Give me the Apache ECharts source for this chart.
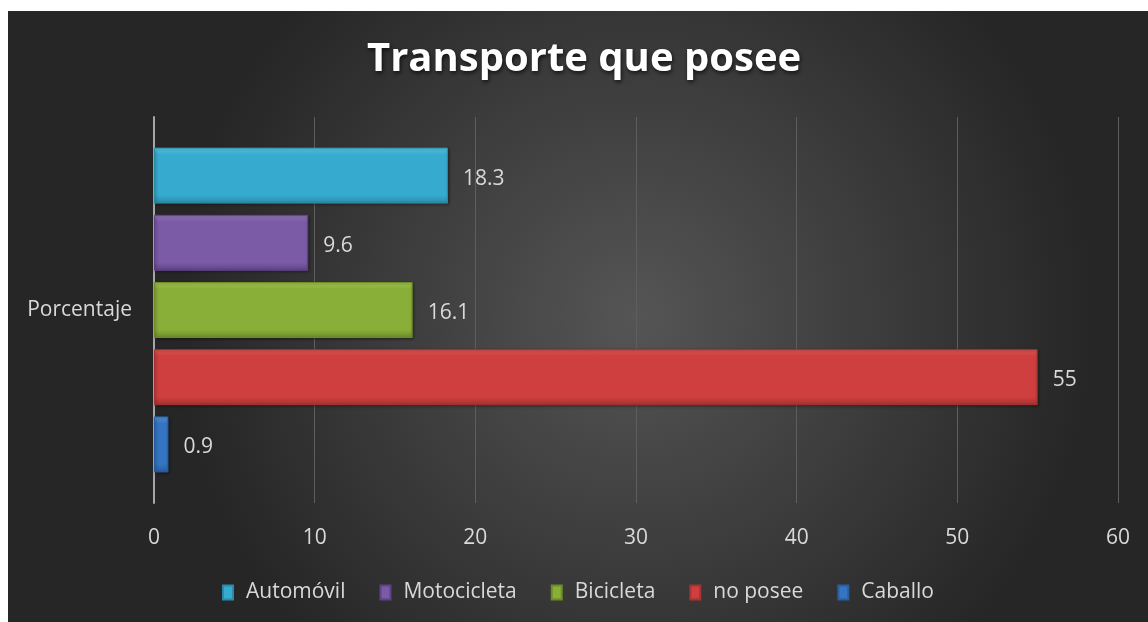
<!DOCTYPE html>
<html>
<head>
<meta charset="utf-8">
<title>Transporte que posee</title>
<script src="https://cdn.jsdelivr.net/npm/echarts@6/dist/echarts.min.js"></script>
<style>
  html, body { margin: 0; padding: 0; background: #ffffff; }
  #chart { position: absolute; left: 8px; top: 11px; width: 1140px; height: 611px; }
</style>
</head>
<body>
<div id="chart"></div>
<script>
var categories = ['Porcentaje'];
var seriesNames = ['Automóvil', 'Motocicleta', 'Bicicleta', 'no posee', 'Caballo'];
var seriesValues = [18.3, 9.6, 16.1, 55, 0.9];
var topColors = ['#5fd0ea', '#9a7cc4', '#a8cc55', '#e85a5a', '#5b9be0'];
var baseColors = ['#36abcf', '#7b5aa6', '#8aaf38', '#cf3f3f', '#3574c2'];
var lowColors = ['#2a8ba8', '#5f4386', '#6d8c29', '#a83232', '#295ea0'];

var chart = echarts.init(document.getElementById('chart'));

// vertical gradient to fake the bevelled bars
function bevel(i) {
  return {
    type: 'linear', x: 0, y: 0, x2: 0, y2: 1,
    colorStops: [
      { offset: 0, color: topColors[i] },
      { offset: 0.12, color: baseColors[i] },
      { offset: 0.85, color: baseColors[i] },
      { offset: 1, color: lowColors[i] }
    ]
  };
}

var series = seriesNames.map(function (name, i) {
  return {
    name: name,
    type: 'bar',
    data: [seriesValues[i]],
    barWidth: 56,
    barGap: '20%',
    itemStyle: {
      color: bevel(i),
      borderColor: lowColors[i],
      borderWidth: 1,
      shadowColor: 'rgba(0,0,0,0.45)',
      shadowBlur: 3,
      shadowOffsetX: 1,
      shadowOffsetY: 1
    },
    label: {
      show: true,
      position: 'right',
      distance: 15,
      offset: [0, 3],
      color: '#d9d9d9',
      fontSize: 21,
      fontFamily: 'Open Sans'
    }
  };
});

chart.setOption({
  backgroundColor: {
    type: 'radial', x: 0.55, y: 0.5, r: 0.75,
    colorStops: [
      { offset: 0, color: '#555555' },
      { offset: 1, color: '#262626' }
    ]
  },
  color: baseColors,
  title: {
    text: 'Transporte que posee',
    left: 354,
    top: 24,
    textStyle: {
      color: '#ffffff',
      fontSize: 40,
      fontWeight: 'bold',
      fontFamily: 'Open Sans',
      textShadowColor: 'rgba(0,0,0,0.7)',
      textShadowBlur: 4,
      textShadowOffsetX: 1,
      textShadowOffsetY: 2
    }
  },
  legend: {
    bottom: 14,
    left: 'center',
    itemWidth: 10,
    itemHeight: 14,
    itemGap: 34,
    icon: 'rect',
    textStyle: { color: '#d9d9d9', fontSize: 21, fontFamily: 'Open Sans', padding: [0, 0, 0, 8] },
    data: seriesNames
  },
  grid: { left: 146, right: 30, top: 106, bottom: 119, containLabel: false },
  xAxis: {
    type: 'value',
    min: 0,
    max: 60,
    interval: 10,
    axisLine: { show: false },
    axisTick: { show: false },
    axisLabel: { color: '#d9d9d9', fontSize: 21, fontFamily: 'Open Sans', margin: 25 },
    splitLine: { lineStyle: { color: '#5e5e5e', width: 1 } }
  },
  yAxis: {
    type: 'category',
    data: categories,
    inverse: true,
    axisLine: { show: true, lineStyle: { color: '#a6a6a6', width: 2 } },
    axisTick: { show: false },
    axisLabel: { color: '#d9d9d9', fontSize: 21, fontFamily: 'Open Sans', margin: 22 }
  },
  series: series
});
</script>
</body>
</html>
